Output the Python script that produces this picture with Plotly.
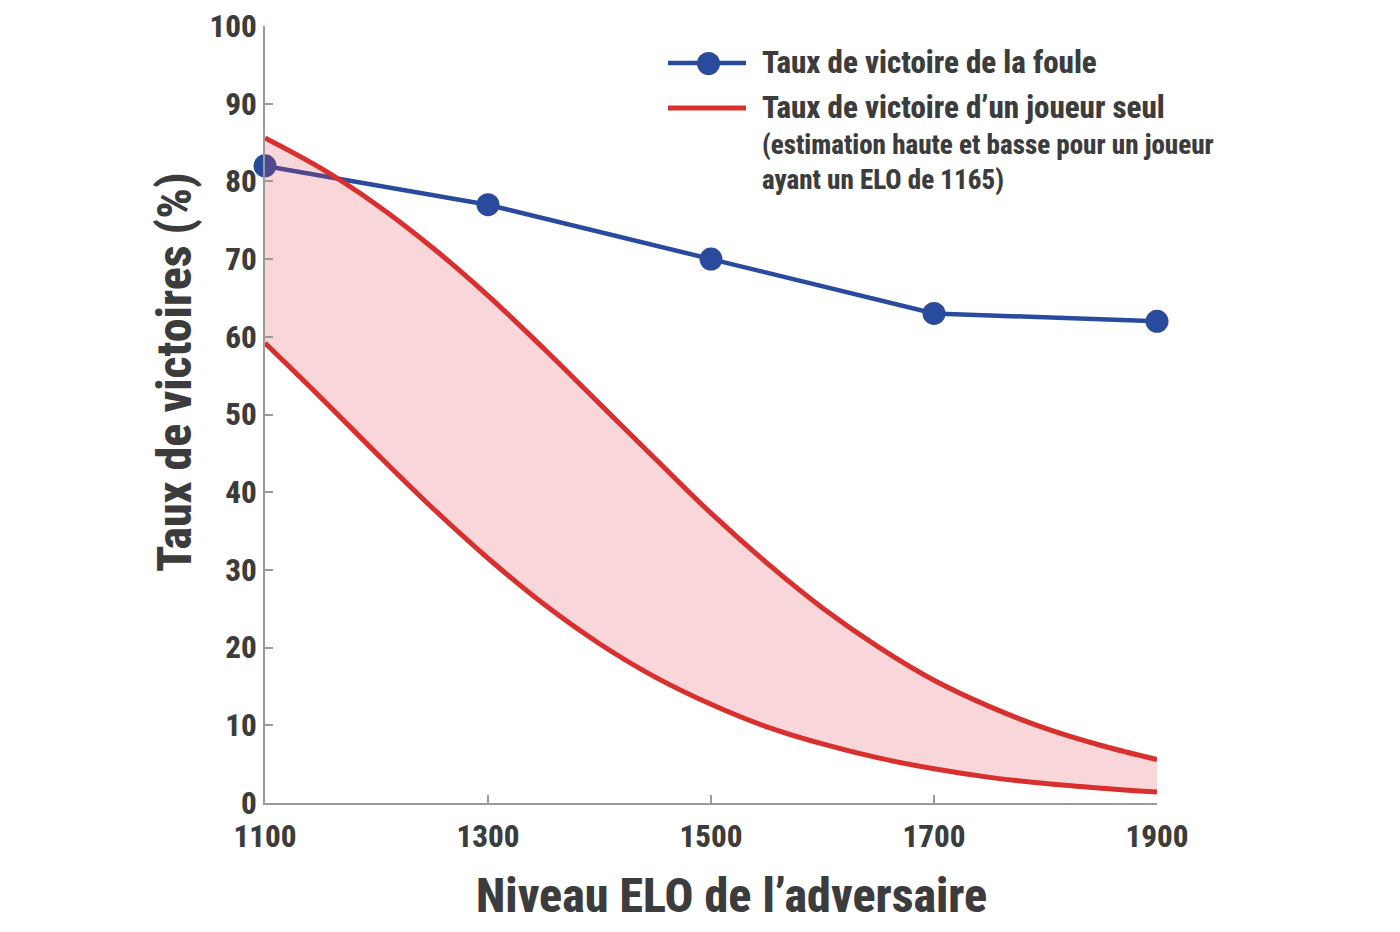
import plotly.graph_objects as go

# Data
elo_crowd = [1100, 1300, 1500, 1700, 1900]
crowd_rate = [82, 77, 70, 63, 62]

elo_curve = [1100, 1150, 1200, 1250, 1300, 1350, 1400, 1450, 1500, 1550,
             1600, 1650, 1700, 1750, 1800, 1850, 1900]
solo_high = [85.6, 81.7, 77.0, 71.5, 65.3, 58.5, 51.4, 44.3, 37.3, 30.9,
             25.1, 20.1, 15.8, 12.4, 9.6, 7.4, 5.6]
solo_low = [59.2, 52.2, 45.0, 38.0, 31.5, 25.6, 20.5, 16.2, 12.7, 9.8,
            7.6, 5.8, 4.4, 3.3, 2.5, 1.9, 1.4]

x_ticks = [1100, 1300, 1500, 1700, 1900]
y_ticks = [0, 10, 20, 30, 40, 50, 60, 70, 80, 90, 100]

legend_crowd = "Taux de victoire de la foule"
legend_solo = "Taux de victoire d’un joueur seul"
legend_solo_note = "(estimation haute et basse pour un joueur<br>ayant un ELO de 1165)"
x_title = "Niveau ELO de l’adversaire"
y_title = "Taux de victoires (%)"

FONT = "Roboto Condensed, Open Sans Condensed, sans-serif"
TXT = "#3c3c3c"
BLUE = "#2a4a9e"
RED = "#d8302f"
W = 800

# page body has an 8px margin: compensate so the plot area lands where intended
OFF = 8
L, R, T, B = 265, 1157, 26, 803   # plot area in page pixels

fig = go.Figure()
fig.add_trace(go.Scatter(
    x=elo_crowd, y=crowd_rate, mode="lines+markers",
    line=dict(color=BLUE, width=4.5),
    marker=dict(color=BLUE, size=23),
    cliponaxis=False, showlegend=False))
fig.add_trace(go.Scatter(
    x=elo_curve, y=solo_low, mode="lines", line=dict(color=RED, width=5, shape="spline"),
    showlegend=False))
fig.add_trace(go.Scatter(
    x=elo_curve, y=solo_high, mode="lines", line=dict(color=RED, width=5, shape="spline"),
    fill="tonexty", fillcolor="rgba(222,70,80,0.22)", showlegend=False))

axis_common = dict(
    showgrid=False, zeroline=False, showline=True, linecolor="#9a9a9a", linewidth=2,
    ticks="inside", ticklen=8, tickwidth=1.5, tickcolor="#9a9a9a",
    ticklabeloverflow="allow", automargin=False,
    tickfont=dict(family=FONT, size=31, color=TXT, weight=W),
)

fig.update_layout(
    width=1400, height=932,
    paper_bgcolor="white", plot_bgcolor="white",
    margin=dict(l=L - OFF, r=1400 - R + OFF, t=T - OFF, b=932 - B + OFF),
    xaxis=dict(range=[1100, 1900], tickvals=x_ticks, ticklabelstandoff=5, **axis_common),
    yaxis=dict(range=[0, 100], tickvals=y_ticks, ticklabelstandoff=0, **axis_common),
)

# helpers: page pixel -> plot-area paper coordinates
def px_x(p):
    return (p - L) / (R - L)
def px_y(p):
    return (B - p) / (B - T)

# axis titles
fig.add_annotation(xref="paper", yref="paper", x=px_x(731), y=px_y(895),
                   xanchor="center", yanchor="middle", showarrow=False,
                   text=x_title, font=dict(family=FONT, size=48, color=TXT, weight=W))
fig.add_annotation(xref="paper", yref="paper", x=px_x(175), y=px_y(373),
                   xanchor="center", yanchor="middle", showarrow=False, textangle=-90,
                   text=y_title, font=dict(family=FONT, size=48, color=TXT, weight=W))

# manual legend
fig.add_shape(type="line", xref="paper", yref="paper",
              x0=px_x(668), x1=px_x(746), y0=px_y(63), y1=px_y(63),
              line=dict(color=BLUE, width=4.5))
fig.add_shape(type="circle", xref="paper", yref="paper",
              x0=px_x(697), x1=px_x(720), y0=px_y(75), y1=px_y(52),
              fillcolor=BLUE, line=dict(color=BLUE, width=0))
fig.add_shape(type="line", xref="paper", yref="paper",
              x0=px_x(668), x1=px_x(746), y0=px_y(108), y1=px_y(108),
              line=dict(color=RED, width=5))
fig.add_annotation(xref="paper", yref="paper", x=px_x(760), y=px_y(62),
                   xanchor="left", yanchor="middle", showarrow=False,
                   text=legend_crowd,
                   font=dict(family=FONT, size=31, color=TXT, weight=W))
fig.add_annotation(xref="paper", yref="paper", x=px_x(760), y=px_y(107),
                   xanchor="left", yanchor="middle", showarrow=False,
                   text=legend_solo,
                   font=dict(family=FONT, size=31, color=TXT, weight=W))
fig.add_annotation(xref="paper", yref="paper", x=px_x(760), y=px_y(162),
                   xanchor="left", yanchor="middle", showarrow=False, align="left",
                   text=legend_solo_note,
                   font=dict(family=FONT, size=27, color=TXT, weight=W))

fig.write_html("out.html")
